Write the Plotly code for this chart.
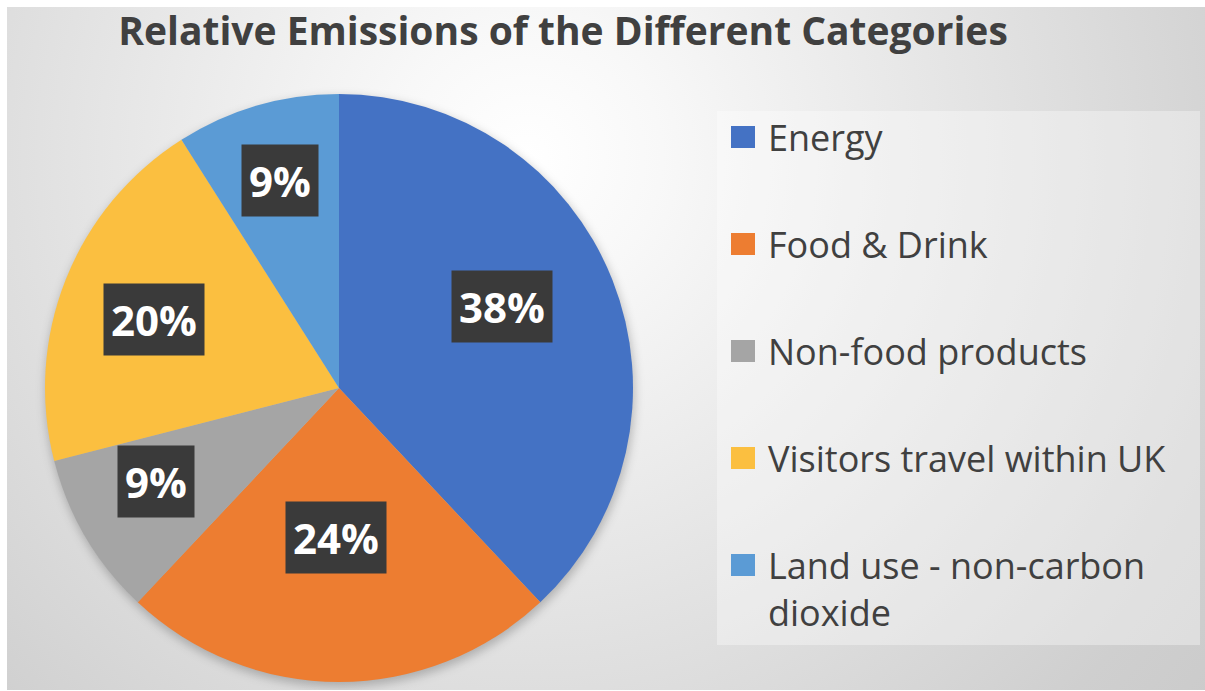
import math
import base64
import plotly.graph_objects as go

# ---------------- data ----------------
categories = ["Energy", "Food & Drink", "Non-food products",
              "Visitors travel within UK", "Land use - non-carbon dioxide"]
legend_text = ["Energy", "Food & Drink", "Non-food products",
               "Visitors travel within UK", "Land use - non-carbon<br>dioxide"]
values = [38, 24, 9, 20, 9]

# ---------------- style ----------------
colors = ["#4472C4", "#ED7D31", "#A5A5A5", "#FBBF40", "#5B9BD5"]
label_radius = [0.62, 0.51, 0.70, 0.67, 0.735]   # radial placement of the % boxes
label_angle_shift = [-5.1, 1.0, 3.6, -1.1, 0.4]   # best-fit nudge (degrees)

W, H = 1205, 691
CX, CY, R = 339, 388, 294          # pie centre / radius in pixels
BG_X0, BG_Y0, BG_X1, BG_Y1 = 7, 7, 1205, 690
TEXT = "#404040"

def px(x):
    return x / W

def py(y):
    return 1 - y / H

# background: radial grey gradient with a soft pie shadow (SVG data URI)
bw, bh = BG_X1 - BG_X0, BG_Y1 - BG_Y0
svg = f'''<svg xmlns="http://www.w3.org/2000/svg" width="{bw}" height="{bh}" viewBox="0 0 {bw} {bh}" preserveAspectRatio="none">
<defs>
<radialGradient id="g" gradientUnits="userSpaceOnUse" cx="520" cy="150" r="900">
<stop offset="0" stop-color="#ffffff"/>
<stop offset="0.15" stop-color="#f8f8f8"/>
<stop offset="0.85" stop-color="#cfcfcf"/>
<stop offset="1" stop-color="#cacaca"/>
</radialGradient>
<filter id="b" x="-20%" y="-20%" width="140%" height="140%"><feGaussianBlur stdDeviation="5"/></filter>
</defs>
<rect x="0" y="0" width="{bw}" height="{bh}" fill="url(#g)"/>
<circle cx="{CX - BG_X0 + 1}" cy="{CY - BG_Y0 + 4}" r="{R + 1}" fill="#000" fill-opacity="0.22" filter="url(#b)"/>
</svg>'''
svg_uri = "data:image/svg+xml;base64," + base64.b64encode(svg.encode()).decode()

fig = go.Figure()
fig.add_trace(go.Pie(
    labels=categories,
    values=values,
    sort=False,
    direction="clockwise",
    rotation=0,
    marker=dict(colors=colors, line=dict(width=0)),
    textinfo="none",
    hoverinfo="label+percent",
    showlegend=False,
    domain=dict(x=[px(CX - R), px(CX + R)], y=[py(CY + R), py(CY - R)]),
))

annotations = []
shapes = []

# percentage labels placed at slice mid-angles computed from the data
total = sum(values)
cum = 0
for v, f, da in zip(values, label_radius, label_angle_shift):
    mid = (cum + v / 2) / total * 2 * math.pi + math.radians(da)
    cum += v
    x = CX + R * f * math.sin(mid)
    y = CY - R * f * math.cos(mid)
    annotations.append(dict(
        x=px(x), y=py(y), xref="paper", yref="paper",
        text=f"<b>{round(v / total * 100)}%</b>", showarrow=False,
        font=dict(family="Open Sans", size=42, color="#ffffff"),
        bgcolor="#3a3a3a", borderpad=7, xanchor="center", yanchor="middle",
    ))

# legend box
shapes.append(dict(type="rect", xref="paper", yref="paper",
                   x0=px(717), x1=px(1200), y0=py(645), y1=py(111),
                   fillcolor="rgba(255,255,255,0.35)", line=dict(width=0),
                   layer="below"))
LEG_Y0, LEG_STEP = 137, 107
for i, (lab, col) in enumerate(zip(legend_text, colors)):
    yc = LEG_Y0 + i * LEG_STEP
    shapes.append(dict(type="rect", xref="paper", yref="paper",
                       x0=px(731), x1=px(755), y0=py(yc + 11), y1=py(yc - 11),
                       fillcolor=col, line=dict(width=0)))
    annotations.append(dict(
        x=px(766), y=py(yc - 26), xref="paper", yref="paper",
        text=lab, showarrow=False, align="left",
        font=dict(family="Open Sans", size=36, color=TEXT),
        xanchor="left", yanchor="top",
    ))

fig.update_layout(
    width=W, height=H,
    margin=dict(l=0, r=0, t=0, b=0),
    paper_bgcolor="#ffffff",
    plot_bgcolor="rgba(0,0,0,0)",
    title=dict(text="<b>Relative Emissions of the Different Categories</b>",
               x=px(563), y=py(31), xanchor="center", yanchor="middle",
               font=dict(family="Open Sans", size=39, color=TEXT)),
    images=[dict(source=svg_uri, xref="paper", yref="paper",
                 x=px(BG_X0), y=py(BG_Y0), sizex=(BG_X1 - BG_X0) / W,
                 sizey=(BG_Y1 - BG_Y0) / H, sizing="stretch",
                 xanchor="left", yanchor="top", layer="below")],
    annotations=annotations,
    shapes=shapes,
)

fig.write_html("out.html")
